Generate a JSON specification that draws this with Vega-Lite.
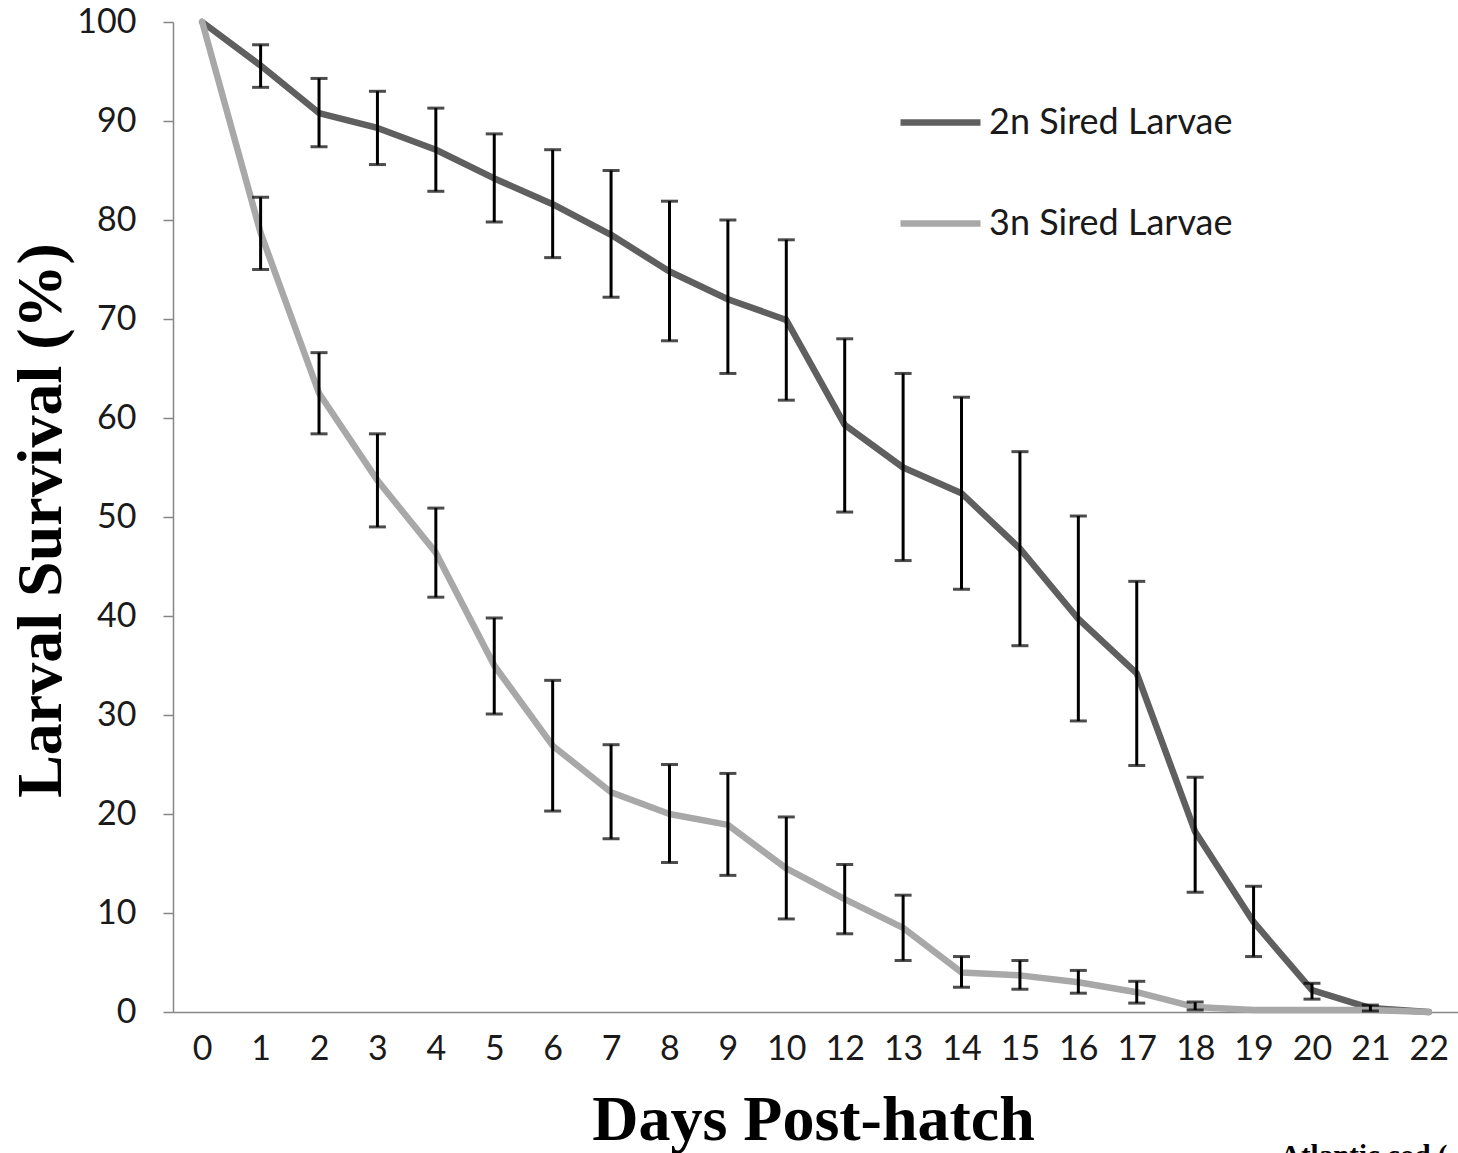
{
  "$schema": "https://vega.github.io/schema/vega-lite/v6.json",
  "width": 1285,
  "height": 990,
  "autosize": {"type": "none"},
  "padding": {"left": 173, "top": 22, "right": 0, "bottom": 141},
  "background": "white",
  "title": {
    "text": "Atlantic cod (",
    "orient": "bottom",
    "anchor": "start",
    "frame": "group",
    "dx": 1107,
    "offset": -10,
    "baseline": "top",
    "font": "Liberation Serif",
    "fontWeight": "bold",
    "fontSize": 29,
    "color": "#000000"
  },
  "config": {
    "view": {"stroke": null},
    "axis": {
      "grid": false,
      "domainColor": "#868686",
      "domainWidth": 1.5,
      "tickColor": "#868686",
      "tickWidth": 1.5,
      "labelFont": "Lato",
      "labelFontSize": 34,
      "labelColor": "#1a1a1a",
      "titleFont": "Liberation Serif",
      "titleFontWeight": "bold",
      "titleFontSize": 64,
      "titleColor": "#000000"
    },
    "legend": {
      "labelFont": "Lato",
      "labelFontSize": 36,
      "labelColor": "#1a1a1a",
      "labelLimit": 0
    }
  },
  "data": {
    "values": [
      {"day": 0, "series": "2n Sired Larvae", "mean": 100, "lo": null, "hi": null},
      {"day": 1, "series": "2n Sired Larvae", "mean": 95.6, "lo": 93.4, "hi": 97.7},
      {"day": 2, "series": "2n Sired Larvae", "mean": 90.8, "lo": 87.4, "hi": 94.3},
      {"day": 3, "series": "2n Sired Larvae", "mean": 89.3, "lo": 85.6, "hi": 93.0},
      {"day": 4, "series": "2n Sired Larvae", "mean": 87.1, "lo": 82.9, "hi": 91.3},
      {"day": 5, "series": "2n Sired Larvae", "mean": 84.2, "lo": 79.8, "hi": 88.7},
      {"day": 6, "series": "2n Sired Larvae", "mean": 81.6, "lo": 76.2, "hi": 87.1},
      {"day": 7, "series": "2n Sired Larvae", "mean": 78.5, "lo": 72.2, "hi": 85.0},
      {"day": 8, "series": "2n Sired Larvae", "mean": 74.8, "lo": 67.8, "hi": 81.9},
      {"day": 9, "series": "2n Sired Larvae", "mean": 72.0, "lo": 64.5, "hi": 80.0},
      {"day": 10, "series": "2n Sired Larvae", "mean": 69.9, "lo": 61.8, "hi": 78.0},
      {"day": 12, "series": "2n Sired Larvae", "mean": 59.3, "lo": 50.5, "hi": 68.0},
      {"day": 13, "series": "2n Sired Larvae", "mean": 55.0, "lo": 45.6, "hi": 64.5},
      {"day": 14, "series": "2n Sired Larvae", "mean": 52.4, "lo": 42.7, "hi": 62.1},
      {"day": 15, "series": "2n Sired Larvae", "mean": 46.8, "lo": 37.0, "hi": 56.6},
      {"day": 16, "series": "2n Sired Larvae", "mean": 39.7, "lo": 29.4, "hi": 50.1},
      {"day": 17, "series": "2n Sired Larvae", "mean": 34.2, "lo": 24.9, "hi": 43.5},
      {"day": 18, "series": "2n Sired Larvae", "mean": 18.2, "lo": 12.1, "hi": 23.7},
      {"day": 19, "series": "2n Sired Larvae", "mean": 9.1, "lo": 5.6, "hi": 12.7},
      {"day": 20, "series": "2n Sired Larvae", "mean": 2.2, "lo": 1.3, "hi": 2.9},
      {"day": 21, "series": "2n Sired Larvae", "mean": 0.4, "lo": 0.1, "hi": 0.7},
      {"day": 22, "series": "2n Sired Larvae", "mean": 0.0, "lo": null, "hi": null},
      {"day": 0, "series": "3n Sired Larvae", "mean": 100, "lo": null, "hi": null},
      {"day": 1, "series": "3n Sired Larvae", "mean": 78.7, "lo": 75.0, "hi": 82.3},
      {"day": 2, "series": "3n Sired Larvae", "mean": 62.5, "lo": 58.4, "hi": 66.6},
      {"day": 3, "series": "3n Sired Larvae", "mean": 53.7, "lo": 49.0, "hi": 58.4},
      {"day": 4, "series": "3n Sired Larvae", "mean": 46.4, "lo": 41.9, "hi": 50.9},
      {"day": 5, "series": "3n Sired Larvae", "mean": 35.0, "lo": 30.1, "hi": 39.8},
      {"day": 6, "series": "3n Sired Larvae", "mean": 26.9, "lo": 20.3, "hi": 33.5},
      {"day": 7, "series": "3n Sired Larvae", "mean": 22.2, "lo": 17.5, "hi": 27.0},
      {"day": 8, "series": "3n Sired Larvae", "mean": 20.0, "lo": 15.1, "hi": 25.0},
      {"day": 9, "series": "3n Sired Larvae", "mean": 18.9, "lo": 13.8, "hi": 24.1},
      {"day": 10, "series": "3n Sired Larvae", "mean": 14.5, "lo": 9.4, "hi": 19.7},
      {"day": 12, "series": "3n Sired Larvae", "mean": 11.4, "lo": 7.9, "hi": 14.9},
      {"day": 13, "series": "3n Sired Larvae", "mean": 8.5, "lo": 5.2, "hi": 11.8},
      {"day": 14, "series": "3n Sired Larvae", "mean": 4.0, "lo": 2.5, "hi": 5.6},
      {"day": 15, "series": "3n Sired Larvae", "mean": 3.7, "lo": 2.3, "hi": 5.2},
      {"day": 16, "series": "3n Sired Larvae", "mean": 3.0, "lo": 1.9, "hi": 4.2},
      {"day": 17, "series": "3n Sired Larvae", "mean": 2.0, "lo": 0.9, "hi": 3.1},
      {"day": 18, "series": "3n Sired Larvae", "mean": 0.5, "lo": 0.2, "hi": 1.0},
      {"day": 19, "series": "3n Sired Larvae", "mean": 0.2, "lo": null, "hi": null},
      {"day": 20, "series": "3n Sired Larvae", "mean": 0.2, "lo": null, "hi": null},
      {"day": 21, "series": "3n Sired Larvae", "mean": 0.2, "lo": null, "hi": null},
      {"day": 22, "series": "3n Sired Larvae", "mean": 0.0, "lo": null, "hi": null}
    ]
  },
  "encoding": {
    "x": {
      "field": "day",
      "type": "ordinal",
      "scale": {"type": "point", "padding": 0.5},
      "axis": {
        "title": "Days Post-hatch",
        "labelAngle": 0,
        "ticks": false,
        "labelPadding": 20,
        "titleX": 640,
        "titleY": 127,
        "titleBaseline": "alphabetic",
        "titleAlign": "center"
      }
    }
  },
  "layer": [
    {
      "mark": {"type": "line", "strokeWidth": 6.5, "strokeJoin": "round", "strokeCap": "round"},
      "encoding": {
        "y": {
          "field": "mean",
          "type": "quantitative",
          "scale": {"domain": [0, 100], "nice": false},
          "axis": {
            "title": "Larval Survival (%)",
            "values": [0, 10, 20, 30, 40, 50, 60, 70, 80, 90, 100],
            "tickSize": 10,
            "labelPadding": 27,
            "titleX": -113,
            "titleY": 498,
            "titleAngle": -90,
            "titleBaseline": "alphabetic",
            "titleAlign": "center"
          }
        },
        "color": {
          "field": "series",
          "type": "nominal",
          "scale": {"domain": ["2n Sired Larvae", "3n Sired Larvae"], "range": ["#5f5f5f", "#a8a8a8"]},
          "legend": {
            "title": null,
            "orient": "none",
            "legendX": 724,
            "legendY": 57,
            "padding": 0,
            "symbolType": "stroke",
            "symbolSize": 6400,
            "symbolStrokeWidth": 6.5,
            "labelOffset": 5,
            "rowPadding": 39
          }
        }
      }
    },
    {
      "transform": [{"filter": "isValid(datum.lo)"}],
      "mark": {"type": "rule", "color": "#000000", "strokeWidth": 3},
      "encoding": {
        "y": {"field": "lo", "type": "quantitative"},
        "y2": {"field": "hi"}
      }
    },
    {
      "transform": [{"filter": "isValid(datum.lo)"}],
      "mark": {"type": "tick", "color": "#000000", "size": 17, "thickness": 3},
      "encoding": {
        "y": {"field": "lo", "type": "quantitative"}
      }
    },
    {
      "transform": [{"filter": "isValid(datum.hi)"}],
      "mark": {"type": "tick", "color": "#000000", "size": 17, "thickness": 3},
      "encoding": {
        "y": {"field": "hi", "type": "quantitative"}
      }
    }
  ]
}
